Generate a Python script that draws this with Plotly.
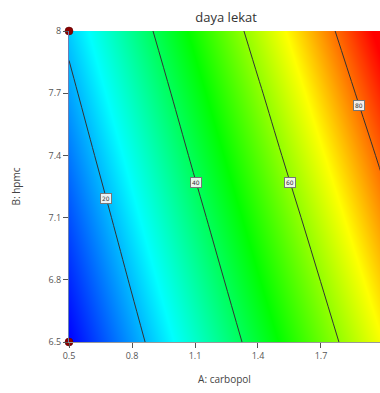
import numpy as np
import plotly.graph_objects as go

# factor levels (grid on which response was read)
carbopol = [0.5, 0.8, 1.1, 1.4, 1.7, 2.0]
hpmc = [6.5, 6.8, 7.1, 7.4, 7.7, 8.0]
# daya lekat response, rows = hpmc, cols = carbopol
daya_lekat = [
    [4.3, 17.3, 30.3, 43.3, 56.3, 69.3],
    [7.7, 20.8, 33.9, 47.1, 60.2, 73.4],
    [11.1, 24.3, 37.6, 50.9, 64.2, 77.6],
    [14.6, 27.9, 41.4, 54.9, 68.4, 81.8],
    [18.1, 31.6, 45.2, 58.9, 72.6, 86.2],
    [21.7, 35.4, 49.2, 63.1, 76.9, 90.7],
]
contour_levels = [20, 40, 60, 80]
label_hpmc = [7.19, 7.27, 7.27, 7.64]   # where each contour label sits
design_x = [0.5, 0.5, 2.0, 2.0]
design_y = [8.0, 6.5, 8.0, 6.5]

x_ticks = [0.5, 0.8, 1.1, 1.4, 1.7]
y_ticks = [6.5, 6.8, 7.1, 7.4, 7.7, 8]

jet = [
    [0.0, "rgb(0,0,255)"],
    [0.25, "rgb(0,255,255)"],
    [0.50, "rgb(0,255,0)"],
    [0.75, "rgb(255,255,0)"],
    [0.97, "rgb(255,0,0)"],
    [1.0, "rgb(255,0,0)"],
]

fig = go.Figure()
fig.add_trace(go.Heatmap(
    x=carbopol, y=hpmc, z=daya_lekat, colorscale=jet, zsmooth="best",
    showscale=False, hoverinfo="skip", zmin=4.3, zmax=90.7,
))
fig.add_trace(go.Contour(
    x=carbopol, y=hpmc, z=daya_lekat,
    autocontour=False,
    contours=dict(start=contour_levels[0], end=contour_levels[-1],
                  size=contour_levels[1] - contour_levels[0],
                  coloring="none", showlabels=False),
    line=dict(color="#333", width=1),
    showscale=False, hoverinfo="skip",
))
fig.add_trace(go.Scatter(
    x=design_x, y=design_y, mode="markers",
    marker=dict(color="#8b0000", size=8, line=dict(color="#500", width=0.5)),
    cliponaxis=False, showlegend=False,
))

# contour labels: find x where each level is crossed at the label's hpmc value
Z = np.array(daya_lekat)
for lev, yl in zip(contour_levels, label_hpmc):
    row = np.array([np.interp(yl, hpmc, Z[:, j]) for j in range(len(carbopol))])
    xl = float(np.interp(lev, row, carbopol))
    fig.add_annotation(
        x=xl, y=yl, text=str(lev), showarrow=False,
        font=dict(size=6, color="#333", family="DejaVu Sans"),
        bgcolor="rgba(245,245,245,0.95)", bordercolor="#777", borderwidth=1,
        borderpad=1,
    )

fig.update_layout(
    width=380, height=393,
    margin=dict(l=69, r=0, t=31, b=51),
    paper_bgcolor="white", plot_bgcolor="white",
    title=dict(text="daya lekat", x=0.595, xanchor="center", y=0.955, yanchor="middle",
               font=dict(family="Open Sans", size=13, color="#333")),
    showlegend=False,
    font=dict(family="Open Sans", color="#444"),
)
fig.update_xaxes(
    range=[0.5, 1.981], tickvals=x_ticks, ticktext=[str(v) for v in x_ticks],
    ticks="outside", ticklen=5, tickcolor="#555", showgrid=False, zeroline=False,
    tickfont=dict(size=9, color="#555"),
    title=dict(text="A: carbopol", font=dict(size=10, color="#444"), standoff=15),
    showline=True, linecolor="#999", linewidth=1,
)
fig.update_yaxes(
    range=[6.5, 8.0], tickvals=y_ticks, ticktext=[str(v) for v in y_ticks],
    ticks="outside", ticklen=5, tickcolor="#555", showgrid=False, zeroline=False,
    tickfont=dict(size=9, color="#555"),
    title=dict(text="B: hpmc", font=dict(size=10, color="#444"), standoff=26),
    showline=True, linecolor="#6a7fb5", linewidth=1, mirror=True,
)

fig.write_html(
    "out.html",
    config={"displayModeBar": False},
    post_script="document.body.style.margin='0';document.body.style.overflow='hidden';",
)
